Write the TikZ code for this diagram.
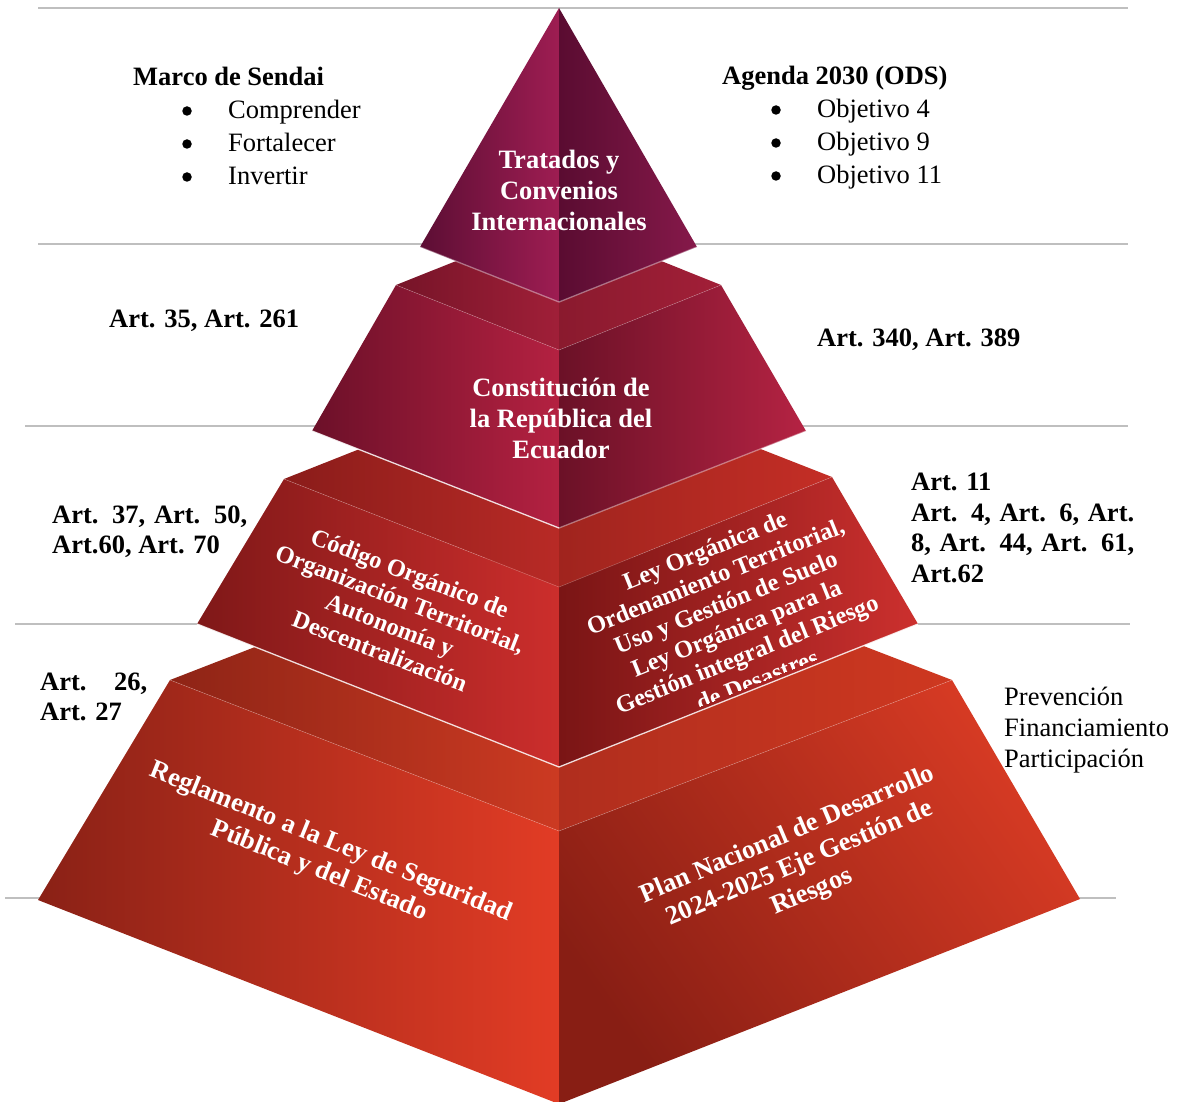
\documentclass[tikz,border=0pt]{standalone}
\usepackage{fontspec}
\setmainfont{Liberation Serif}
% face colours, dark edge / light edge
\definecolor{dTopLa}{RGB}{142,36,22}  \definecolor{dTopLb}{RGB}{204,58,34}
\definecolor{dTopRa}{RGB}{176,46,30}  \definecolor{dTopRb}{RGB}{206,56,32}
\definecolor{dLa}{RGB}{138,33,22}     \definecolor{dLb}{RGB}{226,60,37}
\definecolor{dRa}{RGB}{136,30,20}     \definecolor{dRb}{RGB}{216,59,36}
\definecolor{cTopLa}{RGB}{138,28,26}  \definecolor{cTopLb}{RGB}{184,42,38}
\definecolor{cTopRa}{RGB}{160,36,30}  \definecolor{cTopRb}{RGB}{196,46,38}
\definecolor{cLa}{RGB}{127,24,24}     \definecolor{cLb}{RGB}{204,46,44}
\definecolor{cRa}{RGB}{122,21,21}     \definecolor{cRb}{RGB}{204,48,46}
\definecolor{bTopLa}{RGB}{118,20,40}  \definecolor{bTopLb}{RGB}{160,31,56}
\definecolor{bTopRa}{RGB}{138,26,46}  \definecolor{bTopRb}{RGB}{162,31,56}
\definecolor{bLa}{RGB}{108,16,41}     \definecolor{bLb}{RGB}{180,33,65}
\definecolor{bRa}{RGB}{107,17,39}     \definecolor{bRb}{RGB}{181,35,67}
\definecolor{aLa}{RGB}{92,14,52}      \definecolor{aLb}{RGB}{158,29,82}
\definecolor{aRa}{RGB}{90,12,49}      \definecolor{aRb}{RGB}{134,25,74}
\begin{document}
\begin{tikzpicture}[x=1pt,y=-1pt,
  guide/.style={draw=black!25, line width=1.4pt},
  rim/.style={draw=white, line width=1.3pt, opacity=0.85},
  seam/.style={draw=white, line width=0.5pt, opacity=0.3},
  tier/.style={text=white, font=\bfseries\fontsize{26.5}{31}\selectfont, align=center, inner sep=0pt},
  tiersm/.style={text=white, font=\bfseries\fontsize{24.5}{28}\selectfont, align=center, inner sep=0pt},
  side/.style={font=\fontsize{26.5}{31}\selectfont, inner sep=0pt, anchor=base west},
  sidebf/.style={font=\bfseries\fontsize{26.5}{31}\selectfont, inner sep=0pt, anchor=base west},
  dot/.style={circle, fill=black, inner sep=0pt, minimum size=9.5pt}]
\useasboundingbox (0,0) rectangle (1178,1102);
\fill[white] (0,0) rectangle (1178,1102);

% horizontal guide lines behind the pyramid
\draw[guide] (38,8) -- (1128,8);
\draw[guide] (38,244) -- (1128,244);
\draw[guide] (25,426) -- (1128,426);
\draw[guide] (15,624) -- (1130,624);
\draw[guide] (5,898) -- (1116,898);

% corner points of the four tiers
\coordinate (d-tl) at (170,680); \coordinate (d-tb) at (559,529);
\coordinate (d-tr) at (952,680); \coordinate (d-tf) at (559,831);
\coordinate (d-bl) at (38,900);  \coordinate (d-br) at (1080,899);
\coordinate (d-bf) at (559,1104);

\coordinate (c-tl) at (284,479); \coordinate (c-tb) at (559,370);
\coordinate (c-tr) at (832,477); \coordinate (c-tf) at (559,587);
\coordinate (c-bl) at (197,624); \coordinate (c-br) at (918,624);
\coordinate (c-bf) at (559,767);

\coordinate (b-tl) at (396,285); \coordinate (b-tb) at (559,220);
\coordinate (b-tr) at (721,285); \coordinate (b-tf) at (559,350);
\coordinate (b-bl) at (312,431); \coordinate (b-br) at (806,431);
\coordinate (b-bf) at (559,528);

\coordinate (a-top) at (559,8);
\coordinate (a-bl) at (420,247); \coordinate (a-br) at (697,247);
\coordinate (a-bf) at (559,302);

% ---- bottom tier
\shade[left color=dTopLa, right color=dTopLb] (d-tl) -- (d-tb) -- (d-tf) -- cycle;
\shade[left color=dTopRa, right color=dTopRb] (d-tb) -- (d-tr) -- (d-tf) -- cycle;
\shade[left color=dLa, right color=dLb] (d-tl) -- (d-tf) -- (d-bf) -- (d-bl) -- cycle;
\shade[top color=dRb, bottom color=dRa, shading angle=-55]
  (d-tf) -- (d-tr) -- (d-br) -- (d-bf) -- cycle;
\draw[seam] (d-tl) -- (d-tf) -- (d-tr);

% ---- third tier
\shade[left color=cTopLa, right color=cTopLb] (c-tl) -- (c-tb) -- (c-tf) -- cycle;
\shade[left color=cTopRa, right color=cTopRb] (c-tb) -- (c-tr) -- (c-tf) -- cycle;
\shade[left color=cLa, right color=cLb] (c-tl) -- (c-tf) -- (c-bf) -- (c-bl) -- cycle;
\shade[left color=cRa, right color=cRb] (c-tf) -- (c-tr) -- (c-br) -- (c-bf) -- cycle;
\draw[seam] (c-tl) -- (c-tf) -- (c-tr);
\draw[rim] (c-bl) -- (c-bf) -- (c-br);

% ---- second tier
\shade[left color=bTopLa, right color=bTopLb] (b-tl) -- (b-tb) -- (b-tf) -- cycle;
\shade[left color=bTopRa, right color=bTopRb] (b-tb) -- (b-tr) -- (b-tf) -- cycle;
\shade[left color=bLa, right color=bLb] (b-tl) -- (b-tf) -- (b-bf) -- (b-bl) -- cycle;
\shade[left color=bRa, right color=bRb] (b-tf) -- (b-tr) -- (b-br) -- (b-bf) -- cycle;
\draw[seam] (b-tl) -- (b-tf) -- (b-tr);
\draw[rim] (b-bl) -- (b-bf);
\draw[rim, opacity=0.4] (b-bf) -- (b-br);

% ---- top pyramid
\shade[left color=aLa, right color=aLb] (a-top) -- (a-bf) -- (a-bl) -- cycle;
\shade[left color=aRa, right color=aRb] (a-top) -- (a-br) -- (a-bf) -- cycle;
\draw[rim, opacity=0.4] (a-bl) -- (a-bf) -- (a-br);

% ---- labels on the faces
\node[tier] (tratados) at (559,190) {Tratados y\\Convenios\\Internacionales};
\node[tier] (constitucion) at (561,418) {Constitución de\\la República del\\Ecuador};
\node[tiersm, rotate=-21] (cootad) at (395,612)
  {Código Orgánico de\\Organización Territorial,\\Autonomía y\\Descentralización};
% the text box of this face cuts its last line
\begin{scope}[shift={(731,615)}, rotate=22]
  \clip (-220,-120) rectangle (220,73);
  \node[tiersm, transform shape] (lootugs) at (0,0)
    {Ley Orgánica de\\Ordenamiento Territorial,\\Uso y Gestión de Suelo\\Ley Orgánica para la\\Gestión integral del Riesgo\\de Desastres};
\end{scope}
\node[tier, rotate=-22] (reglamento) at (325,857)
  {Reglamento a la Ley de Seguridad\\Pública y del Estado};
\node[tier, rotate=23] (plan) at (800,864)
  {Plan Nacional de Desarrollo\\2024-2025 Eje Gestión de\\Riesgos};

% ---- side notes
\node[sidebf] (sendai) at (133,86) {Marco de Sendai};
\node[dot] (sb1) at (187,111) {};
\node[dot] (sb2) at (187,144) {};
\node[dot] (sb3) at (187,177) {};
\node[side] (s1) at (228,119) {Comprender};
\node[side] (s2) at (228,152) {Fortalecer};
\node[side] (s3) at (228,185) {Invertir};

\node[sidebf] (agenda) at (722,85) {Agenda 2030 (ODS)};
\node[dot] (ab1) at (776,110) {};
\node[dot] (ab2) at (776,143) {};
\node[dot] (ab3) at (776,176) {};
\node[side] (o1) at (817,118) {Objetivo 4};
\node[side] (o2) at (817,151) {Objetivo 9};
\node[side] (o3) at (817,184) {Objetivo 11};

\node[sidebf] (art35) at (109,327) {Art. 35, Art. 261};
\node[sidebf] (art340) at (817,346) {Art. 340, Art. 389};

\node[sidebf] (art37) at (52,523) {\makebox[195pt][s]{Art. 37, Art. 50,}};
\node[sidebf] (art60) at (52,553) {Art.60, Art. 70};

\node[sidebf] (art11) at (911,490) {Art. 11};
\node[sidebf] (art4) at (911,521) {\makebox[223pt][s]{Art. 4, Art. 6, Art.}};
\node[sidebf] (art8) at (911,551) {\makebox[223pt][s]{8, Art. 44, Art. 61,}};
\node[sidebf] (art62) at (911,582) {Art.62};

\node[sidebf] (art26) at (40,690) {\makebox[107pt][s]{Art. 26,}};
\node[sidebf] (art27) at (40,720) {Art. 27};

\node[side] (prev) at (1004,705) {Prevención};
\node[side] (fin) at (1004,736) {Financiamiento};
\node[side] (part) at (1004,767) {Participación};
\end{tikzpicture}
\end{document}
